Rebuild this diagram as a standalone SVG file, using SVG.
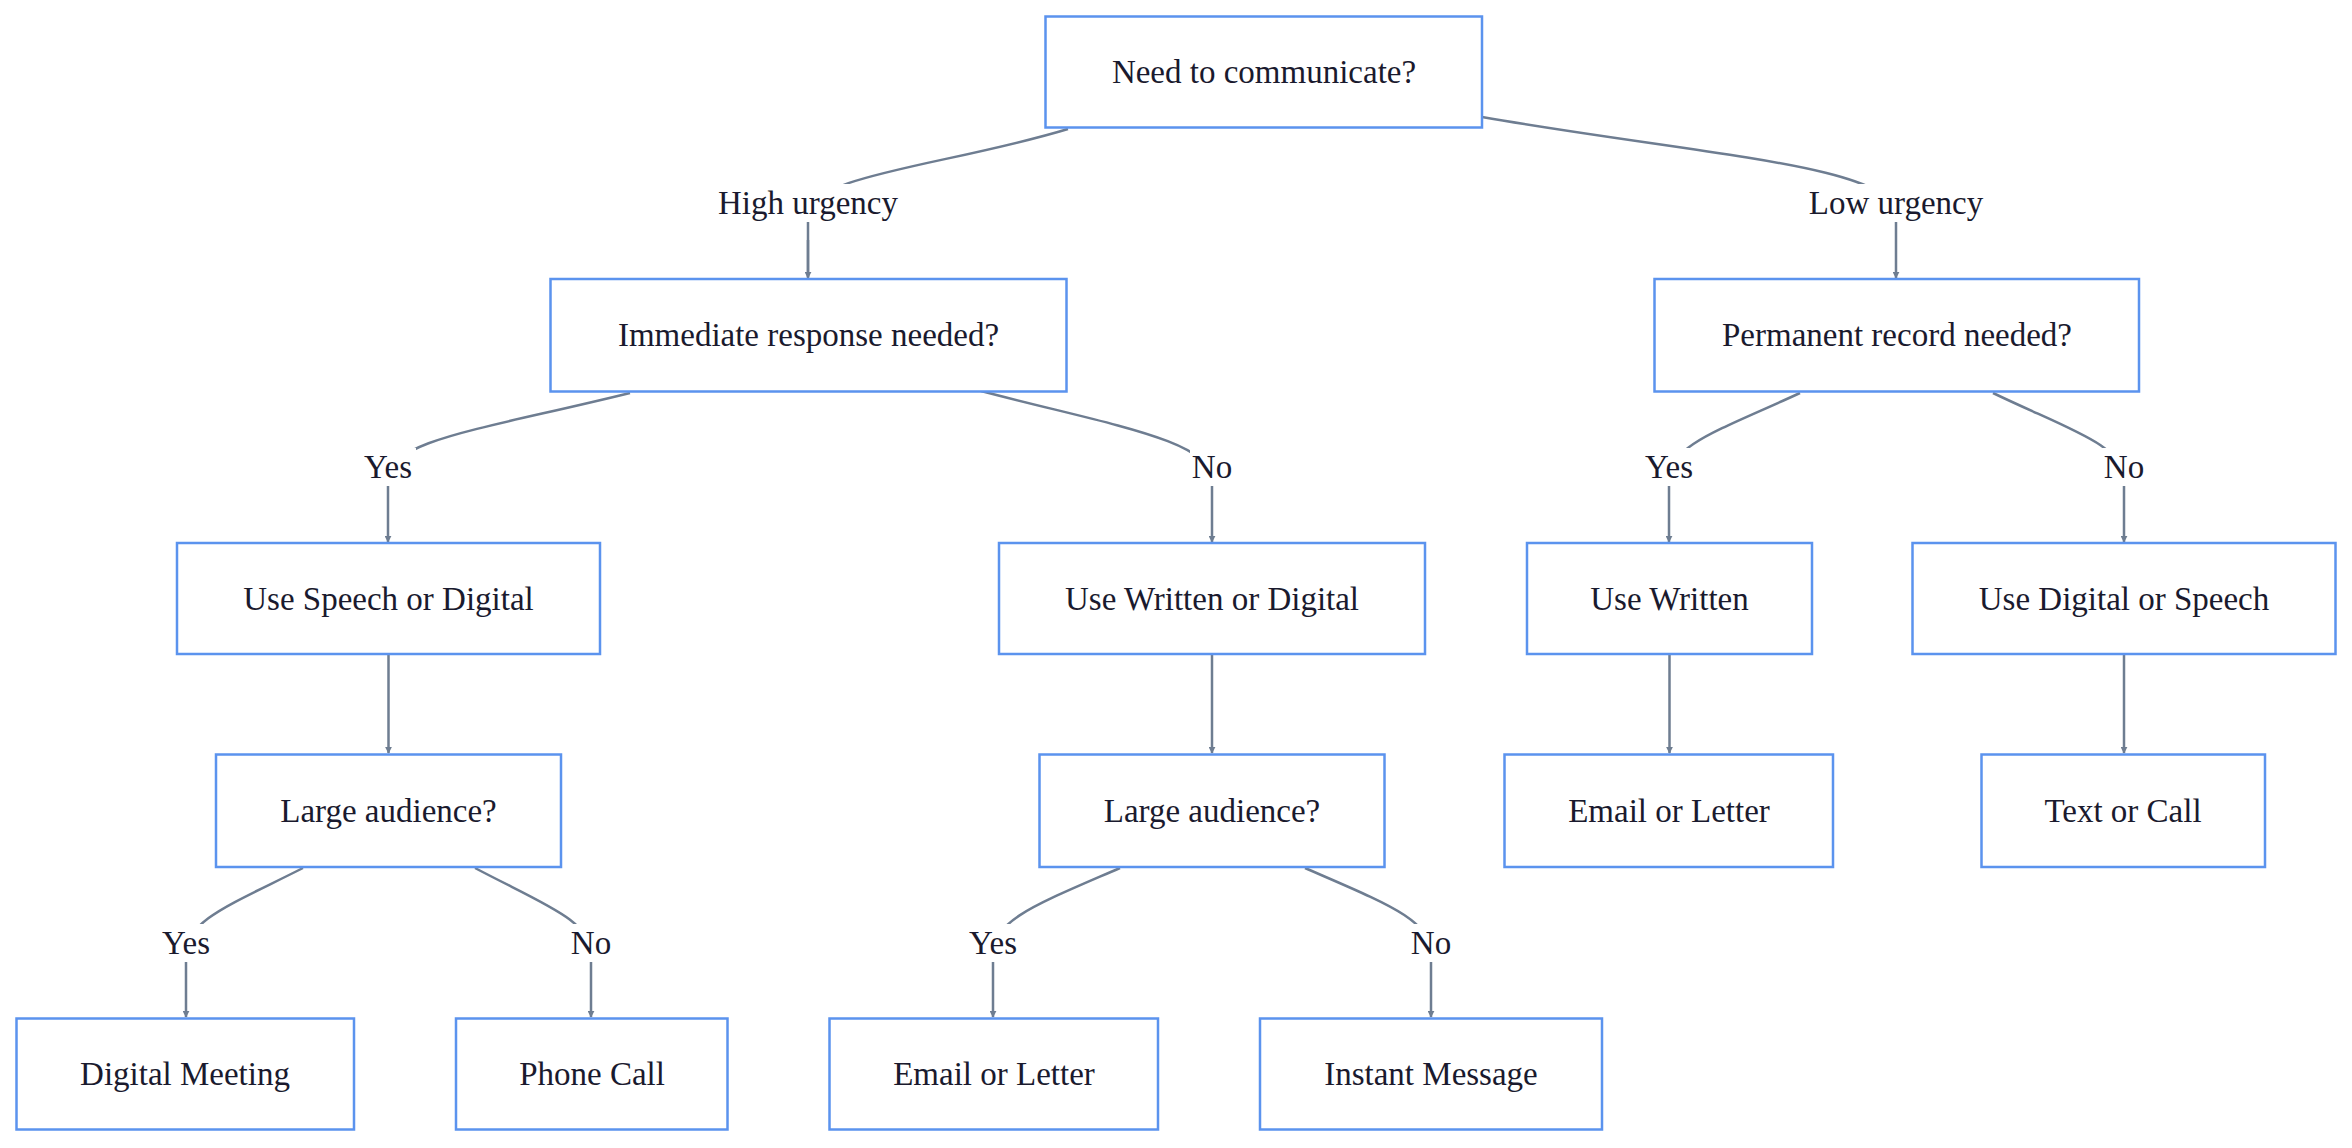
<svg xmlns="http://www.w3.org/2000/svg" width="2352" height="1148" viewBox="0 0 2352 1148">
<style>
.n rect{fill:#fff;stroke:#5b93ee;stroke-width:2.5}
.n text,.lb text{font-family:"Liberation Serif",serif;font-size:33px;fill:#1a1a2e;text-anchor:middle;dominant-baseline:central}
.e path{fill:none;stroke:#6e7d91;stroke-width:2.5}
.lb rect{fill:#fff}
</style>
<defs><marker id="ah" viewBox="0 0 10 10" refX="9" refY="5" markerWidth="7" markerHeight="7" markerUnits="userSpaceOnUse" orient="auto"><path d="M0,0L10,5L0,10z" fill="#6e7d91"/></marker></defs>
<rect width="2352" height="1148" fill="#fff"/>
<g class="e">
<path d="M1068,129 C950,165 808,175 808,215 L808,277" marker-end="url(#ah)" style="marker-end:none"/>
<path d="M808,240 L808,278" marker-end="url(#ah)" marker-end-size="14"/>
<path d="M1482,117 C1700,155 1896,165 1896,215 L1896,278" marker-end="url(#ah)"/>
<path d="M630,393 C480,430 388,440 388,480 L388,542" marker-end="url(#ah)"/>
<path d="M981,391 C1110,425 1212,440 1212,480 L1212,542" marker-end="url(#ah)"/>
<path d="M1800,393 C1720,430 1669,445 1669,480 L1669,542" marker-end="url(#ah)"/>
<path d="M1993,393 C2070,430 2124,445 2124,480 L2124,542" marker-end="url(#ah)"/>
<path d="M388.5,654 L388.5,753" marker-end="url(#ah)"/>
<path d="M1212,654 L1212,753" marker-end="url(#ah)"/>
<path d="M1669.5,654 L1669.5,753" marker-end="url(#ah)"/>
<path d="M2124,654 L2124,753" marker-end="url(#ah)"/>
<path d="M303,868 C230,905 186,920 186,955 L186,1017" marker-end="url(#ah)"/>
<path d="M475,868 C545,905 591,920 591,955 L591,1017" marker-end="url(#ah)"/>
<path d="M1120,868 C1035,905 993,920 993,955 L993,1017" marker-end="url(#ah)"/>
<path d="M1305,868 C1390,905 1431,920 1431,955 L1431,1017" marker-end="url(#ah)"/>
</g>
<g class="lb">
<rect x="712" y="184" width="192" height="38"/><text x="808" y="203">High urgency</text>
<rect x="1800" y="184" width="192" height="38"/><text x="1896" y="203">Low urgency</text>
<rect x="360" y="448" width="56" height="38"/><text x="388" y="467">Yes</text>
<rect x="1190" y="448" width="44" height="38"/><text x="1212" y="467">No</text>
<rect x="1641" y="448" width="56" height="38"/><text x="1669" y="467">Yes</text>
<rect x="2102" y="448" width="44" height="38"/><text x="2124" y="467">No</text>
<rect x="158" y="924" width="56" height="38"/><text x="186" y="943">Yes</text>
<rect x="569" y="924" width="44" height="38"/><text x="591" y="943">No</text>
<rect x="965" y="924" width="56" height="38"/><text x="993" y="943">Yes</text>
<rect x="1409" y="924" width="44" height="38"/><text x="1431" y="943">No</text>
</g>
<g id="A" class="n"><rect x="1045.5" y="16.5" width="436.5" height="111"/><text x="1264" y="72">Need to communicate?</text></g>
<g id="B" class="n"><rect x="550.5" y="279" width="516" height="112.5"/><text x="808.5" y="335">Immediate response needed?</text></g>
<g id="C" class="n"><rect x="1654.5" y="279" width="484.5" height="112.5"/><text x="1897" y="335">Permanent record needed?</text></g>
<g id="D" class="n"><rect x="177" y="543" width="423" height="111"/><text x="388.5" y="599">Use Speech or Digital</text></g>
<g id="E" class="n"><rect x="999" y="543" width="426" height="111"/><text x="1212" y="599">Use Written or Digital</text></g>
<g id="F" class="n"><rect x="1527" y="543" width="285" height="111"/><text x="1669.5" y="599">Use Written</text></g>
<g id="G" class="n"><rect x="1912.5" y="543" width="423" height="111"/><text x="2124" y="599">Use Digital or Speech</text></g>
<g id="H" class="n"><rect x="216" y="754.5" width="345" height="112.5"/><text x="388.5" y="811">Large audience?</text></g>
<g id="I" class="n"><rect x="1039.5" y="754.5" width="345" height="112.5"/><text x="1212" y="811">Large audience?</text></g>
<g id="J" class="n"><rect x="1504.5" y="754.5" width="328.5" height="112.5"/><text x="1669" y="811">Email or Letter</text></g>
<g id="K" class="n"><rect x="1981.5" y="754.5" width="283.5" height="112.5"/><text x="2123" y="811">Text or Call</text></g>
<g id="L" class="n"><rect x="16.5" y="1018.5" width="337.5" height="111"/><text x="185" y="1074">Digital Meeting</text></g>
<g id="M" class="n"><rect x="456" y="1018.5" width="271.5" height="111"/><text x="592" y="1074">Phone Call</text></g>
<g id="N" class="n"><rect x="829.5" y="1018.5" width="328.5" height="111"/><text x="994" y="1074">Email or Letter</text></g>
<g id="O" class="n"><rect x="1260" y="1018.5" width="342" height="111"/><text x="1431" y="1074">Instant Message</text></g>
</svg>
